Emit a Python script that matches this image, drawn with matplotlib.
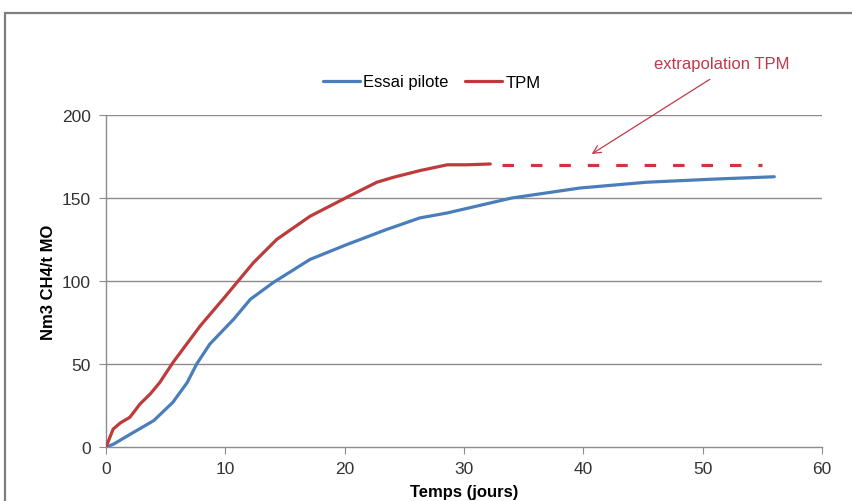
import matplotlib.pyplot as plt
from matplotlib.patches import Rectangle

# Essai pilote (blue)
days_pilote = [0, 0.6, 2.3, 4, 5.6, 6.8, 7.6, 8.7, 10.7, 12.1, 14, 17.1, 20.2, 23.5,
               26.3, 28.6, 34, 39.7, 45.3, 51, 56]
pilote = [0, 1.6, 8.8, 15.9, 26.9, 38.8, 50, 62, 77, 89, 99, 113, 122, 131,
          138, 141, 150, 156, 159.5, 161.4, 162.8]

# TPM (red)
days_tpm = [0, 0.6, 1.2, 2.0, 2.85, 3.7, 4.5, 5.6, 7.9, 9.8, 12.35, 14.3, 17.1, 20.45,
            22.7, 24.1, 26.3, 28.6, 30.2, 32.2]
tpm = [0, 10.8, 14.5, 17.9, 25.9, 31.9, 38.8, 50.8, 73, 89, 111, 125, 139, 151.4,
       159.5, 162.5, 166.5, 170, 170, 170.5]

# extrapolation TPM (dashed)
days_extra = [33.2, 55]
extra = [170, 170]

x_ticks = [0, 10, 20, 30, 40, 50, 60]
y_ticks = [0, 50, 100, 150, 200]

plt.rcParams["font.family"] = ["Liberation Sans", "DejaVu Sans"]

fig = plt.figure(figsize=(8.53, 5.02), dpi=100)
ax = fig.add_axes([106 / 853, 1 - 448 / 502, 716 / 853, 332 / 502])

grey = "#8c8c8c"
for y in y_ticks[1:]:
    ax.axhline(y, color=grey, lw=1.0, zorder=1)

l1, = ax.plot(days_pilote, pilote, color="#4a7ebb", lw=2.3, zorder=3,
              solid_capstyle="round", solid_joinstyle="round", label="Essai pilote")
l2, = ax.plot(days_tpm, tpm, color="#be3b3b", lw=2.3, zorder=3,
              solid_capstyle="round", solid_joinstyle="round", label="TPM")
ax.plot(days_extra, extra, color="#d0353f", lw=2.3, dashes=(3.6, 5.3),
        dash_capstyle="butt", zorder=3)

ax.set_xlim(0, 60)
ax.set_ylim(0, 200)
ax.set_xticks(x_ticks)
ax.set_yticks(y_ticks)
for s in ["top", "right"]:
    ax.spines[s].set_visible(False)
for s in ["left", "bottom"]:
    ax.spines[s].set_color(grey)
    ax.spines[s].set_linewidth(1.0)
ax.tick_params(axis="both", direction="out", length=5, color=grey,
               labelsize=12.5, labelcolor="#333333")
ax.tick_params(axis="x", pad=5)
ax.tick_params(axis="y", pad=6)

ax.set_xlabel("Temps (jours)", fontsize=12, fontweight="bold", labelpad=6)
ax.set_ylabel("Nm3 CH4/t MO", fontsize=12, fontweight="bold", labelpad=4)

fig.legend(handles=[l1, l2], loc="center", bbox_to_anchor=(432 / 853, 1 - 83 / 502),
           ncol=2, frameon=False, fontsize=12, handlelength=2.2,
           handletextpad=0.2, columnspacing=1.0)

# annotation
ann_color = "#c0394b"
ax.text(51.6, 231, "extrapolation TPM", color=ann_color, fontsize=12,
        ha="center", va="center", clip_on=False)
ax.annotate("", xy=(40.7, 176.5), xytext=(50.6, 221.5), annotation_clip=False,
            arrowprops=dict(arrowstyle="->", color=ann_color, lw=0.9,
                            shrinkA=0, shrinkB=0, mutation_scale=14))

# outer frame of the original chart area (cropped)
fig.patches.append(Rectangle((5 / 853, -0.5), 2.0, 0.5 + 1 - 14 / 502,
                             transform=fig.transFigure, fill=False,
                             edgecolor="#7f7f7f", lw=1.6))

fig.savefig("out.png", dpi=100)
